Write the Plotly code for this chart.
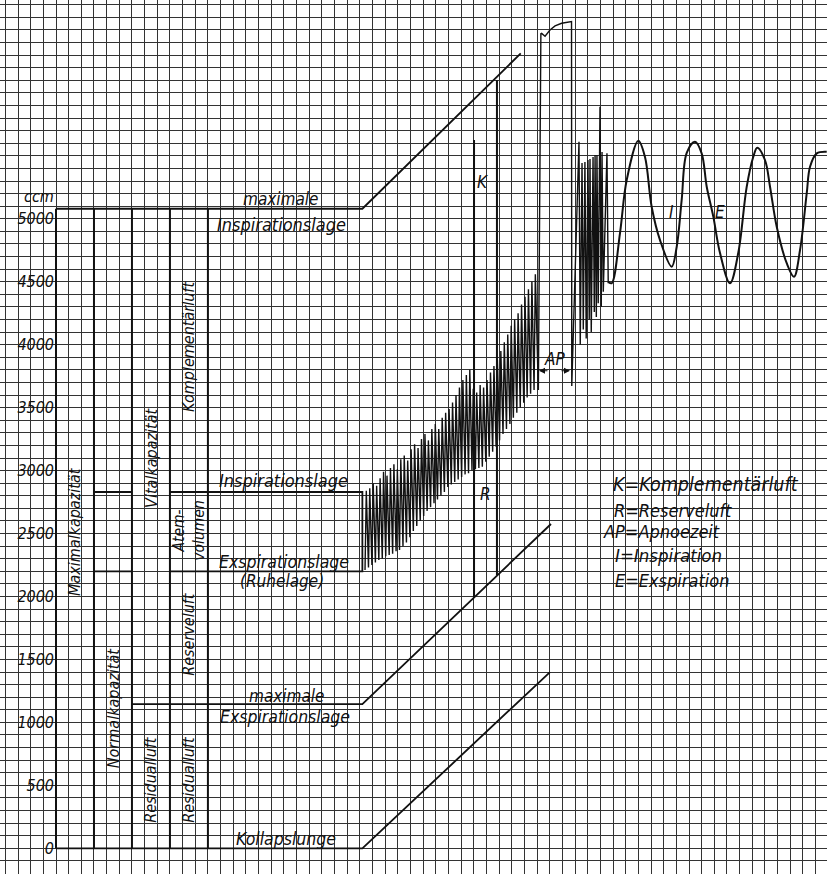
import plotly.graph_objects as go

# ------------------------------------------------------------------ data
# y axis (ccm): grid every 100, labels every 500
y_grid_values = list(range(-200, 6800, 100))
y_label_values = [0, 500, 1000, 1500, 2000, 2500, 3000, 3500, 4000, 4500, 5000]
y_label_texts = ["0", "500", "1000", "1500", "2000", "2500", "3000", "3500", "4000", "4500", "5000"]

# lung volume levels (ccm)
max_capacity = 5080          # maximale Inspirationslage
insp_level = 2830            # Inspirationslage
exsp_level = 2200            # Exspirationslage (Ruhelage)
residual_level = 1145        # maximale Exspirationslage
collapse_level = 0           # Kollapslunge

# column boundaries of the left scheme (time/grid units)
column_edges = [0, 3, 6, 9, 12]
scheme_end = 24.2

# slanted guide lines: end points (time, ccm)
top_diag_end = (36.71, 6314)
resid_diag_end = (39.10, 2576)
zero_diag_end = (39.02, 1400)

# quiet breathing (time of each breath, peaks and troughs in ccm)
breath_start = 24.41
breath_period = 0.2725
tidal_tops = [2840, 2860, 2900, 2880, 2940, 2990, 2960, 3020, 3050, 3010,
              3090, 3120, 3080, 3170, 3210, 3180, 3250, 3290, 3240, 3330,
              3370, 3330, 3420, 3460, 3490, 3540, 3600, 3660, 3720, 3760,
              3800, 3650, 3620, 3680, 3660, 3720, 3780, 3830, 3880, 3950,
              4020, 4080, 4150, 4200, 4250, 4320, 4380, 4440, 4500, 4560]
tidal_bottoms = [2210, 2230, 2250, 2270, 2290, 2300, 2320, 2330, 2340, 2360,
                 2370, 2400, 2430, 2470, 2520, 2560, 2600, 2640, 2680, 2710,
                 2740, 2770, 2800, 2830, 2870, 2890, 2910, 2930, 2950, 2970,
                 2980, 3000, 3010, 3020, 3030, 3070, 3110, 3150, 3190, 3240,
                 3290, 3330, 3370, 3420, 3460, 3500, 3540, 3580, 3610, 3640]

# K (Komplementärluft) and R (Reserveluft) excursions: time, low, high
k_line = (33.02, 1996, 5626)
r_line = (34.83, 2171, 6102)

# deep inspiration and apnoea plateau
deep_t = [38.10, 38.30, 38.36, 38.63, 39.02, 39.42, 39.94, 40.60, 40.72, 40.74]
deep_v = [3640, 6470, 6473, 6450, 6500, 6532, 6553, 6566, 6566, 3672]

# rapid breathing after apnoea
rapid_t = [41.31, 41.55, 41.78, 42.02, 42.18, 42.42, 42.58, 42.73, 42.97, 43.13, 43.52]
rapid_tops = [5612, 5443, 5451, 5467, 5475, 5491, 5507, 5507, 5890, 5530, 5520]
rapid_bottoms = [4000, 4120, 4050, 4200, 4100, 4260, 4220, 4330, 4300, 4420, 4488]

# slow deep breathing (I / E)
slow_t = [43.63, 43.89, 44.55, 45.08, 46.00, 46.52, 47.05, 47.71, 48.63, 49.03,
          49.42, 49.82, 50.47, 51.00, 51.40, 51.92, 52.45, 53.24, 53.89, 54.56,
          55.08, 55.39, 56.00, 56.40, 56.93, 57.72, 58.29, 58.77, 59.30, 59.56,
          60.09, 60.88]
slow_v = [4500, 4488, 4887, 5308, 5620, 5493, 5096, 4831, 4620, 4778,
          5149, 5523, 5612, 5520, 5255, 5017, 4728, 4488, 4728, 5255,
          5493, 5565, 5467, 5255, 4937, 4647, 4540, 4752, 5203, 5414,
          5520, 5533]

legend_lines = ["K=Komplementärluft", "R=Reserveluft", "AP=Apnoezeit",
                "I=Inspiration", "E=Exspiration"]

# ------------------------------------------------------------------ styling
BLACK = "#111111"
GRID = "#333333"
FONT = "Liberation Sans Narrow, DejaVu Sans Condensed, Roboto Condensed, Arial Narrow, sans-serif"

fig = go.Figure()


def line(xs, ys, width=2.0, shape="linear"):
    fig.add_trace(go.Scatter(x=xs, y=ys, mode="lines",
                             line=dict(color=BLACK, width=width, shape=shape),
                             hoverinfo="skip", showlegend=False))


# column verticals
vx, vy = [], []
for c in column_edges:
    vx += [c, c, None]
    vy += [collapse_level, max_capacity, None]
line(vx, vy, 2.0)

# horizontal levels with slanted continuations
line([column_edges[0], scheme_end, top_diag_end[0]], [max_capacity, max_capacity, top_diag_end[1]], 1.8)
line([column_edges[0], scheme_end, zero_diag_end[0]], [collapse_level, collapse_level, zero_diag_end[1]], 1.8)
line([column_edges[2], scheme_end, resid_diag_end[0]], [residual_level, residual_level, resid_diag_end[1]], 1.8)

# tidal box and Normalkapazität subdivisions
line([column_edges[3], scheme_end, scheme_end, column_edges[3]],
     [insp_level, insp_level, exsp_level, exsp_level], 1.8)
line([column_edges[1], column_edges[2], None, column_edges[1], column_edges[2]],
     [insp_level, insp_level, None, exsp_level, exsp_level], 1.8)

# quiet breathing trace
tx, ty = [], []
for i in range(len(tidal_tops)):
    t = breath_start + i * breath_period
    tx += [t, t + 0.1]
    ty += [tidal_bottoms[i], tidal_tops[i]]
tx += deep_t
ty += deep_v
for i in range(len(rapid_t)):
    tx += [rapid_t[i], rapid_t[i] + 0.1]
    ty += [rapid_tops[i], rapid_bottoms[i]]
line(tx, ty, 1.4)

# slow breathing
line(slow_t, slow_v, 2.0, shape="spline")

# K and R lines
line([k_line[0], k_line[0], None, r_line[0], r_line[0]],
     [k_line[1], k_line[2], None, r_line[1], r_line[2]], 2.0)

# ------------------------------------------------------------------ texts
annots = []


def lab(text, x, y, size=17, angle=0, xanchor="center", yanchor="middle"):
    annots.append(dict(x=x, y=y, xref="x", yref="y", text=text, showarrow=False,
                       textangle=angle, xanchor=xanchor, yanchor=yanchor,
                       font=dict(family=FONT, size=size, color=BLACK, style="italic")))


lab("ccm", 0.0, 5088, 16, xanchor="right", yanchor="bottom")
lab("maximale", 17.77, 5158, 17)
lab("Inspirationslage", 17.85, 4958, 18)
lab("Inspirationslage", 18.0, 2918, 18)
lab("Exspirationslage", 18.0, 2274, 17.5)
lab("(Ruhelage)", 17.85, 2123, 17)
lab("maximale", 18.25, 1210, 17)
lab("Exspirationslage", 18.09, 1044, 17.5)
lab("Kollapslunge", 18.17, 75, 17.5)

lab("Maximalkapazität", 1.5, 2521, 16, angle=-90)
lab("Normalkapazität", 4.5, 1113, 16, angle=-90)
lab("Vitalkapazität", 7.5, 3100, 16, angle=-90)
lab("Residualluft", 7.5, 552, 16, angle=-90)
lab("Komplementärluft", 10.5, 3990, 16, angle=-90)
lab("Atem-<br>volumen", 10.5, 2530, 15.5, angle=-90)
lab("Reserveluft", 10.5, 1703, 16, angle=-90)
lab("Residualluft", 10.5, 552, 16, angle=-90)

lab("K", 33.70, 5295, 17)
lab("R", 33.89, 2814, 17)
lab("I", 48.63, 5056, 17)
lab("E", 52.45, 5056, 17)
lab("AP", 39.34, 3890, 17)

legend_x = [43.84, 43.92, 43.05, 44.0, 44.0]
legend_y = [2886, 2687, 2513, 2322, 2131]
legend_size = [19.5, 18, 18, 18.5, 18]
for txt, lx, ly, ls in zip(legend_lines, legend_x, legend_y, legend_size):
    lab(txt, lx, ly, ls, xanchor="left")

# AP arrows
for hx, ax in [(38.15, 10), (40.60, -10)]:
    annots.append(dict(x=hx, y=3793, xref="x", yref="y", ax=ax, ay=0, text="",
                       showarrow=True, arrowhead=2, arrowsize=1, arrowwidth=1.2,
                       arrowcolor=BLACK, standoff=0))

fig.update_layout(
    width=827, height=874, autosize=False,
    margin=dict(l=0, r=0, t=0, b=0, pad=0),
    paper_bgcolor="white", plot_bgcolor="white",
    showlegend=False, annotations=annots,
    xaxis=dict(range=[-4.4234, 60.9005], tick0=0, dtick=1, showgrid=True,
               gridcolor=GRID, gridwidth=1, showticklabels=False, zeroline=False,
               showline=False, ticks="", automargin=False, fixedrange=True),
    yaxis=dict(range=[-204.1, 6737.9], tickmode="array", tickvals=y_grid_values,
               ticktext=[y_label_texts[y_label_values.index(v)] if v in y_label_values else ""
                         for v in y_grid_values],
               showgrid=True, gridcolor=GRID, gridwidth=1, zeroline=False,
               showline=False, ticks="", automargin=False, fixedrange=True,
               anchor="free", position=54 / 827, ticklabelstandoff=0,
               tickfont=dict(family=FONT, size=16, color=BLACK, style="italic")),
)

fig.write_html("out.html", config={"displayModeBar": False},
               post_script="document.body.style.margin='0';")
